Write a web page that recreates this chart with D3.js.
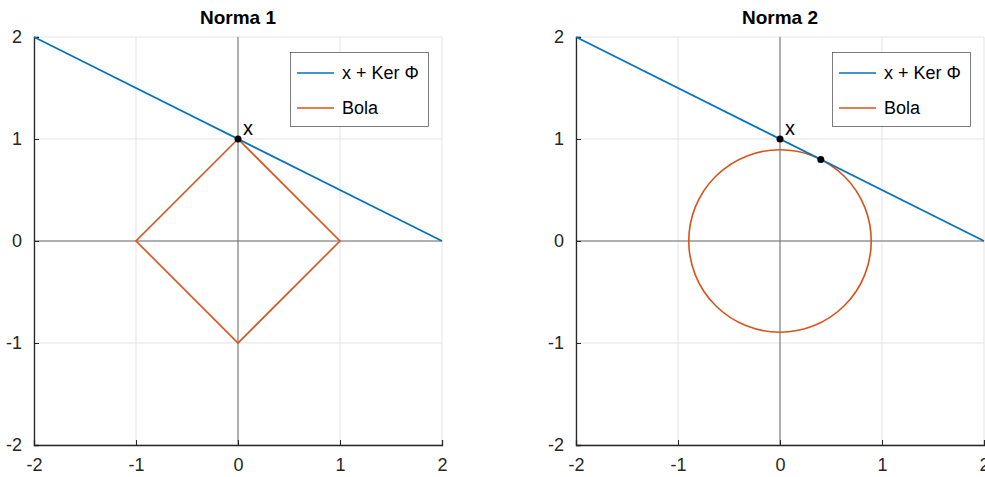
<!DOCTYPE html>
<html>
<head>
<meta charset="utf-8">
<script src="https://cdn.jsdelivr.net/npm/d3@7"></script>
<style>
  body { margin: 0; background: #fff; }
  text { font-family: "Liberation Sans", Arial, sans-serif; }
</style>
</head>
<body>
<svg id="chart" width="985" height="477"></svg>
<script>
// data
var ticks = [-2, -1, 0, 1, 2];
var titles = ["Norma 1", "Norma 2"];
var lineX = [-2, 2];               // x + Ker Phi : y = 1 - x/2
var lineY = [2, 0];
var diamondX = [0, 1, 0, -1, 0];   // unit ball, norm 1
var diamondY = [1, 0, -1, 0, 1];
var circleR = 2 / Math.sqrt(5);    // norm-2 ball touching the line
var pointX = [0, 1];
var tangentPt = [0.4, 0.8];
var legendNames = ["x + Ker \u03a6", "Bola"];

var blue = "#0072BD", orange = "#D95319";
var svg = d3.select("#chart");

var panels = [{left: 34, title: titles[0]}, {left: 576, title: titles[1]}];

panels.forEach(function(p, pi) {
  var x = d3.scaleLinear().domain([-2, 2]).range([p.left, p.left + 408]);
  var y = d3.scaleLinear().domain([-2, 2]).range([445, 37]);
  var g = svg.append("g");

  // grid
  g.selectAll(".gx").data(ticks).enter().append("line")
    .attr("x1", function(d){ return x(d); }).attr("x2", function(d){ return x(d); })
    .attr("y1", y(-2)).attr("y2", y(2))
    .style("stroke", "#e3e3e3").style("stroke-width", 1);
  g.selectAll(".gy").data(ticks).enter().append("line")
    .attr("y1", function(d){ return y(d); }).attr("y2", function(d){ return y(d); })
    .attr("x1", x(-2)).attr("x2", x(2))
    .style("stroke", "#e3e3e3").style("stroke-width", 1);

  // zero axes
  g.append("line").attr("x1", x(0)).attr("x2", x(0)).attr("y1", y(-2)).attr("y2", y(2))
    .style("stroke", "#6e6e6e").style("stroke-width", 1);
  g.append("line").attr("x1", x(-2)).attr("x2", x(2)).attr("y1", y(0)).attr("y2", y(0))
    .style("stroke", "#6e6e6e").style("stroke-width", 1);

  // axes
  var xAxis = d3.axisBottom(x).tickValues(ticks).tickSize(-5).tickPadding(13)
    .tickFormat(function(d){ return d; });
  var yAxis = d3.axisLeft(y).tickValues(ticks).tickSize(-5).tickPadding(12)
    .tickFormat(function(d){ return d; });
  var ax = g.append("g").attr("transform", "translate(0," + y(-2) + ")").call(xAxis);
  var ay = g.append("g").attr("transform", "translate(" + x(-2) + ",0)").call(yAxis);
  [ax, ay].forEach(function(a) {
    a.attr("font-size", null).attr("font-family", null);
    a.select(".domain").style("stroke", "#262626").style("stroke-width", 1.3);
    a.selectAll(".tick line").style("stroke", "#262626");
    a.selectAll("text").style("font-size", "18px").style("fill", "#262626");
  });
  ax.selectAll("text").attr("dy", "0.71em");

  var line = d3.line().x(function(d){ return x(d[0]); }).y(function(d){ return y(d[1]); });

  // ball
  if (pi == 0) {
    g.append("path").datum(d3.zip(diamondX, diamondY)).attr("d", line)
      .style("fill", "none").style("stroke", orange).style("stroke-width", 1.6);
  } else {
    g.append("circle").attr("cx", x(0)).attr("cy", y(0))
      .attr("r", x(circleR) - x(0))
      .style("fill", "none").style("stroke", orange).style("stroke-width", 1.6);
  }

  // x + Ker Phi
  g.append("path").datum(d3.zip(lineX, lineY)).attr("d", line)
    .style("fill", "none").style("stroke", blue).style("stroke-width", 1.6);

  // points
  var pts = [pointX];
  if (pi == 1) pts.push(tangentPt);
  g.selectAll(".pt").data(pts).enter().append("circle")
    .attr("cx", function(d){ return x(d[0]); }).attr("cy", function(d){ return y(d[1]); })
    .attr("r", 3.5).style("fill", "#000");
  g.append("text").attr("x", x(pointX[0]) + 5).attr("y", y(pointX[1]) - 4)
    .style("font-size", "20px").style("fill", "#000").text("x");

  // title
  g.append("text").attr("x", x(0)).attr("y", 24).attr("text-anchor", "middle")
    .style("font-size", "19px").style("font-weight", "bold").style("fill", "#000")
    .text(p.title);

  // legend
  var lx = x(2) - 152, ly = 52;
  var leg = g.append("g").attr("transform", "translate(" + lx + "," + ly + ")");
  leg.append("rect").attr("x", 0.5).attr("y", 0.5).attr("width", 138).attr("height", 74)
    .style("fill", "#fff").style("stroke", "#262626").style("stroke-width", 0.6);
  legendNames.forEach(function(name, i) {
    var ry = 21 + i * 35;
    leg.append("line").attr("x1", 7).attr("x2", 44).attr("y1", ry).attr("y2", ry)
      .style("stroke", i == 0 ? blue : orange).style("stroke-width", 1.6);
    leg.append("text").attr("x", 52).attr("y", ry + 6)
      .style("font-size", "18px").style("fill", "#000").text(name);
  });
});
</script>
</body>
</html>
